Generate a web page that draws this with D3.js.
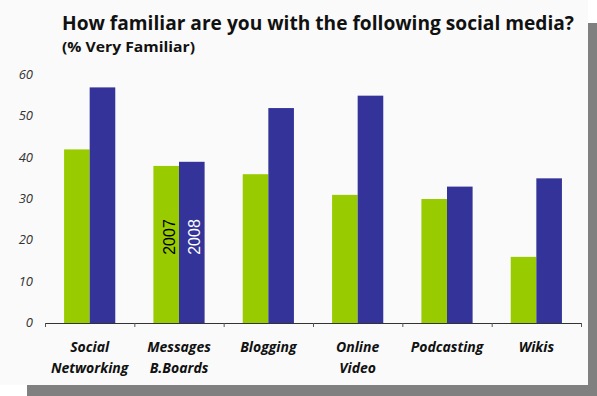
<!DOCTYPE html>
<html>
<head>
<meta charset="utf-8">
<script src="https://cdn.jsdelivr.net/npm/d3@7"></script>
<style>
  body { margin: 0; background: #ffffff; }
  svg { display: block; }
</style>
</head>
<body>
<div id="chart"></div>
<script>
// DATA
const categories = [['Social', 'Networking'], ['Messages', 'B.Boards'], ['Blogging'], ['Online', 'Video'], ['Podcasting'], ['Wikis']];
const seriesNames = ['2007', '2008'];
const values2007 = [42, 38, 36, 31, 30, 16];
const values2008 = [57, 39, 52, 55, 33, 35];
const yTicks = [0, 10, 20, 30, 40, 50, 60];
const colors = ['#99cc00', '#333399'];

// DIMENSIONS
const width = 597;
const height = 396;
const x0 = 45, x1 = 581;
const yBase = 323, yTop = 75;

const svg = d3.select('#chart').append('svg')
  .attr('width', width)
  .attr('height', height);

// shadow + panel
svg.append('rect').attr('x', 27).attr('y', 23).attr('width', 570).attr('height', 373).style('fill', '#808080');
svg.append('rect').attr('x', 0).attr('y', 0).attr('width', 588).attr('height', 385).style('fill', '#fafafa');

// TITLE
svg.append('text')
  .attr('x', 62).attr('y', 30)
  .style('font-family', 'Open Sans, sans-serif')
  .style('font-weight', 'bold')
  .style('font-size', '20px')
  .attr('textLength', 512)
  .attr('lengthAdjust', 'spacingAndGlyphs')
  .style('fill', '#111')
  .text('How familiar are you with the following social media?');
svg.append('text')
  .attr('x', 62).attr('y', 52)
  .style('font-family', 'Open Sans, sans-serif')
  .style('font-weight', 'bold')
  .style('font-size', '15px')
  .attr('textLength', 133)
  .attr('lengthAdjust', 'spacingAndGlyphs')
  .style('fill', '#111')
  .text('(% Very Familiar)');

// SCALES
const xScale = d3.scaleBand().domain(d3.range(categories.length)).range([x0, x1]).padding(0);
const yScale = d3.scaleLinear().domain([0, 60]).range([yBase, yTop]);
const barW = 25.6;

// Y labels
svg.append('g').selectAll('text')
  .data(yTicks).enter().append('text')
  .attr('x', 33)
  .attr('y', d => yScale(d) + 4)
  .style('text-anchor', 'end')
  .style('font-family', 'Open Sans, sans-serif')
  .style('font-style', 'italic')
  .style('font-size', '13px')
  .style('fill', '#333')
  .text(d => d);

// BARS
const groups = svg.append('g').selectAll('g.cat')
  .data(categories.map((c, i) => ({ i: i, v: [values2007[i], values2008[i]] })))
  .enter().append('g').attr('class', 'cat');

groups.selectAll('rect')
  .data(d => d.v.map((v, s) => ({ i: d.i, s: s, v: v })))
  .enter().append('rect')
  .attr('x', d => xScale(d.i) + xScale.bandwidth() / 2 - barW + d.s * barW)
  .attr('y', d => yScale(d.v))
  .attr('width', barW)
  .attr('height', d => yBase - yScale(d.v))
  .style('fill', d => colors[d.s]);

// X axis
const axisG = svg.append('g');
axisG.append('line')
  .attr('x1', x0).attr('x2', x1).attr('y1', yBase + 0.5).attr('y2', yBase + 0.5)
  .style('stroke', '#333').style('stroke-width', 1);
axisG.selectAll('line.tick')
  .data(d3.range(categories.length + 1)).enter().append('line')
  .attr('class', 'tick')
  .attr('x1', d => x0 + d * xScale.bandwidth() + 0.5)
  .attr('x2', d => x0 + d * xScale.bandwidth() + 0.5)
  .attr('y1', yBase).attr('y2', yBase + 4)
  .style('stroke', '#555').style('stroke-width', 1);

// category labels
const labels = svg.append('g').selectAll('text')
  .data(categories).enter().append('text')
  .attr('x', (d, i) => xScale(i) + xScale.bandwidth() / 2)
  .attr('y', 352)
  .style('text-anchor', 'middle')
  .style('font-family', 'Open Sans, sans-serif')
  .style('font-style', 'italic')
  .style('font-weight', 'bold')
  .style('font-size', '14px')
  .style('fill', '#111');
labels.selectAll('tspan')
  .data(d => d).enter().append('tspan')
  .attr('x', function() { return d3.select(this.parentNode).attr('x'); })
  .attr('dy', (d, i) => i === 0 ? 0 : 21)
  .text(d => d);

// LEGEND inside Messages bars
const legendCat = 1;
seriesNames.forEach((name, s) => {
  const cx = xScale(legendCat) + xScale.bandwidth() / 2 - barW + s * barW + barW / 2;
  svg.append('text')
    .attr('transform', `translate(${cx + 8.5}, 237) rotate(-90)`)
    .style('text-anchor', 'middle')
    .style('font-family', 'Liberation Sans, Arial, sans-serif')
    .style('font-size', '16px')
    .style('fill', s === 0 ? '#000' : '#fff')
    .text(name);
});
</script>
</body>
</html>
